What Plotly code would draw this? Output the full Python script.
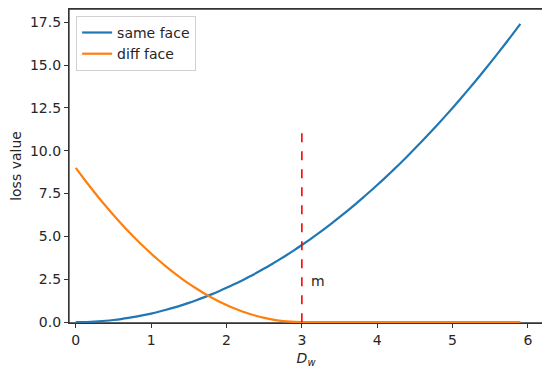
import plotly.graph_objects as go

dw = [0.0, 0.1, 0.2, 0.3, 0.4, 0.5, 0.6, 0.7, 0.8, 0.9,
      1.0, 1.1, 1.2, 1.3, 1.4, 1.5, 1.6, 1.7, 1.8, 1.9,
      2.0, 2.1, 2.2, 2.3, 2.4, 2.5, 2.6, 2.7, 2.8, 2.9,
      3.0, 3.1, 3.2, 3.3, 3.4, 3.5, 3.6, 3.7, 3.8, 3.9,
      4.0, 4.1, 4.2, 4.3, 4.4, 4.5, 4.6, 4.7, 4.8, 4.9,
      5.0, 5.1, 5.2, 5.3, 5.4, 5.5, 5.6, 5.7, 5.8, 5.9]

same_face = [0.0, 0.005, 0.02, 0.045, 0.08, 0.125, 0.18, 0.245, 0.32, 0.405,
             0.5, 0.605, 0.72, 0.845, 0.98, 1.125, 1.28, 1.445, 1.62, 1.805,
             2.0, 2.205, 2.42, 2.645, 2.88, 3.125, 3.38, 3.645, 3.92, 4.205,
             4.5, 4.805, 5.12, 5.445, 5.78, 6.125, 6.48, 6.845, 7.22, 7.605,
             8.0, 8.405, 8.82, 9.245, 9.68, 10.125, 10.58, 11.045, 11.52, 12.005,
             12.5, 13.005, 13.52, 14.045, 14.58, 15.125, 15.68, 16.245, 16.82, 17.405]

diff_face = [9.0, 8.41, 7.84, 7.29, 6.76, 6.25, 5.76, 5.29, 4.84, 4.41,
             4.0, 3.61, 3.24, 2.89, 2.56, 2.25, 1.96, 1.69, 1.44, 1.21,
             1.0, 0.81, 0.64, 0.49, 0.36, 0.25, 0.16, 0.09, 0.04, 0.01,
             0.0, 0.0, 0.0, 0.0, 0.0, 0.0, 0.0, 0.0, 0.0, 0.0,
             0.0, 0.0, 0.0, 0.0, 0.0, 0.0, 0.0, 0.0, 0.0, 0.0,
             0.0, 0.0, 0.0, 0.0, 0.0, 0.0, 0.0, 0.0, 0.0, 0.0]

margin_x = [3.0, 3.0]
margin_y = [0.0, 11.35]
margin_label = "m"
margin_label_pos = [3.1, 2.4]

x_ticks = [0, 1, 2, 3, 4, 5, 6]
y_ticks = [0.0, 2.5, 5.0, 7.5, 10.0, 12.5, 15.0, 17.5]

FONT = "DejaVu Sans"
TXT = "#262626"
AX = "#333333"
FS = 14

fig = go.Figure()
fig.add_trace(go.Scatter(x=dw, y=same_face, mode="lines", name="same face",
                         line=dict(color="#1f77b4", width=2.2, shape="spline")))
fig.add_trace(go.Scatter(x=dw, y=diff_face, mode="lines", name="diff face",
                         line=dict(color="#ff7f0e", width=2.2, shape="spline")))
fig.add_trace(go.Scatter(x=margin_x, y=margin_y, mode="lines", showlegend=False,
                         line=dict(color="red", width=1.6, dash="dash")))

fig.add_annotation(x=margin_label_pos[0], y=margin_label_pos[1], text=margin_label,
                   showarrow=False, xanchor="left", yanchor="middle",
                   font=dict(family=FONT, size=FS, color=TXT))

# axes frame
fig.add_shape(type="rect", xref="paper", yref="paper", x0=0, x1=1, y0=0, y1=1,
              line=dict(color=AX, width=1.3), fillcolor="rgba(0,0,0,0)", layer="below")

# page body has an 8px default margin, so the figure is sized/offset to compensate
fig.update_layout(
    width=542, height=367,
    margin=dict(l=61, r=7, t=1, b=52),
    paper_bgcolor="white", plot_bgcolor="white",
    font=dict(family=FONT, size=FS, color=TXT),
    legend=dict(x=0.015, y=0.978, xanchor="left", yanchor="top",
                bgcolor="rgba(255,255,255,0.9)", bordercolor="#d0d0d0", borderwidth=1,
                font=dict(family=FONT, size=FS, color=TXT),
                itemwidth=30, tracegroupgap=0),
    showlegend=True,
)

fig.update_xaxes(range=[-0.09, 6.2], tickvals=x_ticks, ticktext=[str(v) for v in x_ticks],
                 automargin=False, layer="below traces",
                 showgrid=False, zeroline=False, showline=True, linecolor=AX, linewidth=1.3,
                 mirror=True, ticks="outside", ticklen=4, tickcolor=AX,
                 tickfont=dict(family=FONT, size=FS, color=TXT),
                 title=dict(text="<i>D<sub>w</sub></i>", standoff=6,
                            font=dict(family=FONT, size=FS, color=TXT)))
fig.update_yaxes(range=[-0.05, 18.27], tickvals=y_ticks, ticktext=[f"{v:.1f}" for v in y_ticks],
                 automargin=False, layer="below traces",
                 showgrid=False, zeroline=False, showline=True, linecolor=AX, linewidth=1.3,
                 mirror=True, ticks="outside", ticklen=4, tickcolor=AX,
                 tickfont=dict(family=FONT, size=FS, color=TXT),
                 title=dict(text="loss value", standoff=4,
                            font=dict(family=FONT, size=FS, color=TXT)))

fig.write_html("out.html")
